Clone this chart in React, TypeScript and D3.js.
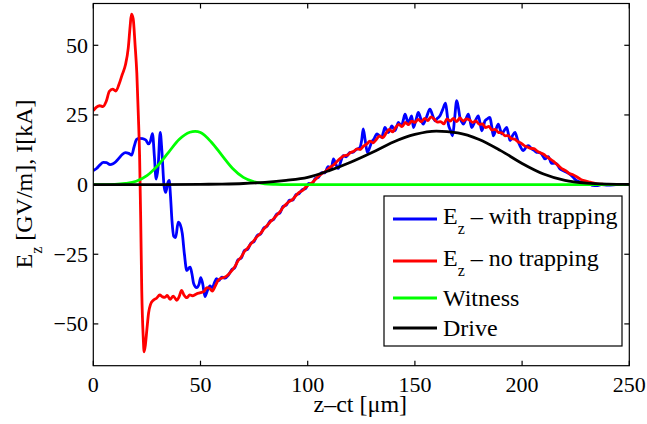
import React from "react";
import * as d3 from "d3";

type P = [number, number];

const xTicks = [0, 50, 100, 150, 200, 250];
const yTicks = [-50, -25, 0, 25, 50];
const yTickLabels = ["\u221250", "\u221225", "0", "25", "50"];

const ezWithTrapping: P[] = [
  [0, 5], [1.5, 5.8], [3, 7], [4.7, 8], [6.2, 7.9], [7.8, 7.2], [9.2, 7.5], [10.5, 8.2], [12, 9.5],
  [13.5, 10.8], [15, 11.5], [16.5, 11.2], [17.9, 10.6], [19, 13.5], [20.2, 16.2], [21.5, 16.6],
  [23, 16.5], [24.5, 16], [25.7, 14.6], [26.6, 15.5], [27.6, 18.3], [28.5, 10], [29.3, 2], [30.2, 6],
  [31.2, 18.7], [32, 12], [33, -0.5], [33.8, -2.8], [34.7, 0.5], [35.4, 1.5], [36, -4], [36.7, -13],
  [37.5, -18.5], [38.4, -19], [39.6, -13.5], [40.6, -14.5], [41.5, -17.5], [42.5, -25], [43.6, -30.8],
  [44.5, -30], [45.2, -29.6], [46, -32], [46.8, -35.5], [48.2, -37], [49.3, -35.8], [50.1, -33.4],
  [51, -35.5], [52.1, -40.2], [53, -38.5], [54.4, -36.4], [55.5, -37], [56.5, -35.2], [57.5, -33.8],
  [58.5, -34.5], [60, -33.2], [61.5, -33.6], [63, -32.5], [64.5, -30.6], [66, -29.8], [67.5, -27],
  [69, -26.4], [70.5, -23.6], [72, -23.2], [73.5, -21], [75, -20.4], [76.5, -18.2], [78, -17.8],
  [79.5, -15.6], [81, -15], [82.5, -13], [84, -12.6], [85.5, -10.6], [87, -10.2], [88.5, -7.8],
  [90, -7.4], [91.5, -5.6], [93, -5.6], [94.5, -3.6], [96, -3.2], [97.5, -1.8], [99, -1.4],
  [100.5, 0.4], [102, 0.2], [103.5, 2.2], [105, 2.6], [106.5, 4.3], [108, 4.2], [109.5, 6.4],
  [111, 5.9], [112, 9.2], [113, 7.5], [114.3, 5.8], [115.5, 8.5], [116.6, 10.4], [118, 10],
  [119.7, 11.6], [121, 11.6], [122.5, 12.5], [124.4, 13.4], [125.2, 16], [125.9, 20], [126.8, 16],
  [127.8, 11.6], [129, 13.5], [129.8, 15.2], [131, 16.5], [132.2, 18.2], [133.3, 17.6], [134.5, 17],
  [135.3, 18.8], [136, 20.5], [136.8, 19.6], [137.6, 18.7], [138.4, 19.8], [139.2, 21.1], [140, 20.2],
  [140.7, 19.3], [141.5, 20.8], [142.3, 22.3], [143, 21.7], [143.8, 21.1], [144.6, 23.2], [145.4, 25.3],
  [146.2, 23.5], [146.9, 21.7], [147.7, 23.4], [148.5, 24.7], [149.3, 20.5], [150.5, 23.2],
  [151.6, 25.9], [152.8, 23.5], [153.9, 21.7], [155.5, 24.4], [157, 27.1], [158.2, 25], [159.4, 22.9],
  [160.5, 23.8], [161.7, 24.7], [163, 27], [164.3, 29.2], [165, 25.5], [165.6, 21.7], [166.6, 19.5],
  [167.6, 17.5], [168.5, 23.5], [169.5, 30.1], [170.3, 27.5], [171, 24.1], [171.8, 22.6], [172.6, 21.7],
  [173.8, 23.5], [174.9, 25.3], [175.7, 23], [176.5, 20.5], [178, 22.6], [179.6, 24.7], [180.4, 22],
  [181.2, 19.3], [182, 21], [182.7, 22.9], [183.8, 23.6], [185, 24.1], [185.8, 21], [186.6, 17.5],
  [187.7, 19.6], [188.9, 21.7], [189.7, 20], [190.5, 18.2], [191.6, 19.4], [192.8, 20.5], [193.6, 18.2],
  [194.4, 15.8], [195.5, 17.5], [196.7, 18.7], [198, 15.8], [199, 14], [200.6, 12.2], [202, 13.6],
  [202.9, 14], [204.5, 12.8], [205.6, 12.3], [206.8, 11.6], [208, 11.5], [209.1, 11], [210.7, 9.2],
  [212.2, 10], [213.8, 7.6], [215, 7.7], [216.1, 7.4], [217.7, 5.6], [219.2, 5], [220.8, 4.4],
  [222, 3.9], [223.1, 3.2], [224.3, 2.2], [225.5, 1.4], [227.8, 0.8], [229.5, 0.3], [231.7, 0.2],
  [233, -0.3], [234.8, -0.4], [237, 0], [240, -0.2], [245, 0.1], [250, 0],
];

const ezNoTrapping: P[] = [
  [0, 26.5], [1.5, 27.8], [3, 28.3], [4.5, 28], [6, 29.8], [7.5, 33.5], [9, 34.3], [10.5, 33.6],
  [12, 36], [13.5, 39.5], [15, 43], [16.3, 49], [17.2, 57], [17.8, 61.2], [18.6, 59.5], [19.5, 50],
  [20.3, 40], [21, 25], [21.6, 10], [22.1, -12], [22.6, -38], [23.3, -55], [23.7, -60], [24.3, -57.5],
  [25, -52], [25.8, -46], [26.7, -43], [28, -41.5], [29.5, -40.8], [31, -39.6], [32.3, -40.3],
  [33.4, -40.5], [34.5, -39.8], [35.8, -41.2], [37.3, -40], [38.9, -41.5], [40, -40.3], [41.2, -38],
  [42.2, -39.5], [43.6, -40.6], [45, -39.6], [46.2, -39.9], [48.2, -39.2], [50, -38.8], [51.5, -38.4],
  [53, -37], [54.2, -37.2], [55.5, -38.2], [57, -36.2], [58.3, -34.3], [60, -33.5], [61.5, -33.2],
  [63, -32.3], [64.5, -31], [66, -29.5], [67.5, -27.3], [69, -26], [70.5, -24], [72, -22.8],
  [73.5, -21.3], [75, -20], [76.5, -18.6], [78, -17.5], [79.5, -16], [81, -14.7], [82.5, -13.4],
  [84, -12.3], [85.5, -11], [87, -9.8], [88.5, -8.2], [90, -7], [91.5, -6], [93, -5.3], [94.5, -4],
  [96, -2.8], [97.5, -2.2], [99, -1], [100.5, 0], [102, 0.6], [103.5, 1.8], [105, 3], [106.5, 3.9],
  [108, 4.6], [109.5, 5.6], [111, 6.5], [112.5, 7.3], [114, 8.6], [115.5, 9.6], [117, 10.4],
  [118.5, 10.6], [120, 11.5], [121.5, 12], [123, 12.8], [124.5, 12.6], [126, 13.8], [127.5, 14.5],
  [129, 15.6], [130.5, 15], [132, 16.2], [133.5, 17.5], [135, 16.8], [136.5, 18.4], [138, 19.8],
  [139.5, 18.9], [141, 20.5], [142.5, 21.6], [144, 20.8], [145.5, 22.3], [147, 21.5], [148.5, 22.8],
  [150, 22.3], [151.5, 23.4], [153, 22.5], [154.5, 23.8], [156, 23], [157.5, 24.3], [159, 23.5],
  [160.5, 22.4], [162, 22.6], [163.5, 21.8], [165, 23.6], [166.5, 22.8], [168, 23.8], [169.5, 22.6],
  [171, 23.9], [172.5, 22.8], [174, 23.6], [175.5, 23.2], [177, 22.3], [178.5, 22.9], [180, 21.6],
  [181.5, 21.8], [183, 20.5], [184.5, 20.9], [186, 19.6], [187.5, 19.8], [189, 18.7], [190.5, 18.6],
  [192, 17.5], [193.5, 17.6], [195, 16.5], [196.5, 16.3], [198, 15.4], [199.5, 14.9], [201, 14],
  [202.5, 13.5], [204, 13], [205.5, 12.9], [207, 12], [208.5, 11.4], [210, 10.9], [211.5, 10],
  [213, 9.2], [214.5, 8.4], [216, 7.4], [217.5, 6.4], [219, 5.5], [220.5, 4.9], [222, 4], [223.5, 3.6],
  [225, 3], [226.5, 2.3], [228, 1.6], [229.5, 1.3], [231, 1], [233, 0.6], [235, 0.3], [238, 0.1],
  [242, 0], [250, 0],
];

const witness: P[] = [
  [0, 0], [10, 0.1], [15, 0.4], [20, 1.2], [25, 3.2], [30, 6.8], [35, 11.5], [40, 16.2], [45, 18.8],
  [47.5, 19.1], [50, 18.7], [55, 15.3], [60, 10.5], [65, 5.8], [70, 2.6], [75, 1.0], [80, 0.3],
  [85, 0.1], [90, 0], [250, 0],
];

const drive: P[] = [
  [0, 0], [30, 0.02], [50, 0.1], [60, 0.2], [70, 0.4], [80, 0.8], [90, 1.5], [100, 2.6], [110, 5.0],
  [120, 8.0], [130, 11.5], [140, 15.3], [150, 18.0], [160, 19.2], [170, 18.6], [180, 16.2],
  [190, 12.2], [200, 7.6], [210, 3.8], [220, 1.5], [230, 0.5], [240, 0.15], [250, 0.05],
];

const seriesNames = ["with trapping", "no trapping", "Witness", "Drive"];
const seriesColors = ["#0000ff", "#ff0000", "#00ff00", "#000000"];

const FONT = '"Liberation Serif", "DejaVu Serif", serif';
const tickTxt: React.CSSProperties = { fontFamily: FONT, fontSize: 22 };
const labTxt: React.CSSProperties = { fontFamily: FONT, fontSize: 24 };

export default function App() {
  const left = 93.3, right = 629.3, top = 3.5, bottom = 365.7;
  const x = d3.scaleLinear().domain([0, 250]).range([left, right]);
  const y = d3.scaleLinear().domain([-65, 65]).range([bottom, top]);
  const line = d3
    .line<P>()
    .x((d) => x(d[0]))
    .y((d) => y(d[1]))
    .curve(d3.curveMonotoneX);

  const data = [ezWithTrapping, ezNoTrapping, witness, drive];
  const tl = 5;

  const legX = 384, legY = 196, legW = 238, legH = 150;
  const entryY = [219, 261, 298, 328];

  return (
    <svg
      width={647}
      height={424}
      style={{ position: "absolute", left: 0, top: 0, background: "#fff", fontFamily: FONT }}
    >
      <defs>
        <clipPath id="plot">
          <rect x={left} y={top} width={right - left} height={bottom - top} />
        </clipPath>
      </defs>
      <rect x={0} y={0} width={647} height={424} fill="#fff" />
      <g clipPath="url(#plot)">
        {data.map((d, i) => (
          <path key={i} d={line(d) || ""} fill="none" stroke={seriesColors[i]} strokeWidth={2.8} strokeLinejoin="round" />
        ))}
      </g>
      <rect x={left} y={top} width={right - left} height={bottom - top} fill="none" stroke="#000" strokeWidth={1.2} />
      {xTicks.map((t) => (
        <g key={"x" + t}>
          <line x1={x(t)} x2={x(t)} y1={bottom} y2={bottom - tl} stroke="#000" strokeWidth={1.2} />
          <line x1={x(t)} x2={x(t)} y1={top} y2={top + tl} stroke="#000" strokeWidth={1.2} />
          <text x={x(t)} y={392} textAnchor="middle" style={tickTxt}>
            {t}
          </text>
        </g>
      ))}
      {yTicks.map((t, i) => (
        <g key={"y" + t}>
          <line x1={left} x2={left + tl} y1={y(t)} y2={y(t)} stroke="#000" strokeWidth={1.2} />
          <line x1={right} x2={right - tl} y1={y(t)} y2={y(t)} stroke="#000" strokeWidth={1.2} />
          <text x={88} y={y(t) + 7.5} textAnchor="end" style={tickTxt}>
            {yTickLabels[i]}
          </text>
        </g>
      ))}
      <text x={(left + right) / 2 - 1} y={412} textAnchor="middle" style={labTxt}>
        z–ct [μm]
      </text>
      <text transform={`translate(32,184) rotate(-90)`} textAnchor="middle" style={labTxt}>
        <tspan>E</tspan>
        <tspan dy={10} style={{ fontSize: 16 }}>z</tspan>
        <tspan dy={-10}> [GV/m], I[kA]</tspan>
      </text>
      <rect x={legX} y={legY} width={legW} height={legH} fill="#fff" stroke="#000" strokeWidth={1.2} />
      {seriesNames.map((n, i) => (
        <g key={"l" + i}>
          <line x1={393} x2={437} y1={entryY[i]} y2={entryY[i]} stroke={seriesColors[i]} strokeWidth={2.8} />
          {i < 2 ? (
            <text x={443} y={entryY[i] + 5} style={labTxt}>
              <tspan>E</tspan>
              <tspan dy={10} style={{ fontSize: 16 }}>z</tspan>
              <tspan dy={-10}>{" – " + n}</tspan>
            </text>
          ) : (
            <text x={443} y={entryY[i] + 8} style={labTxt}>
              {n}
            </text>
          )}
        </g>
      ))}
    </svg>
  );
}
